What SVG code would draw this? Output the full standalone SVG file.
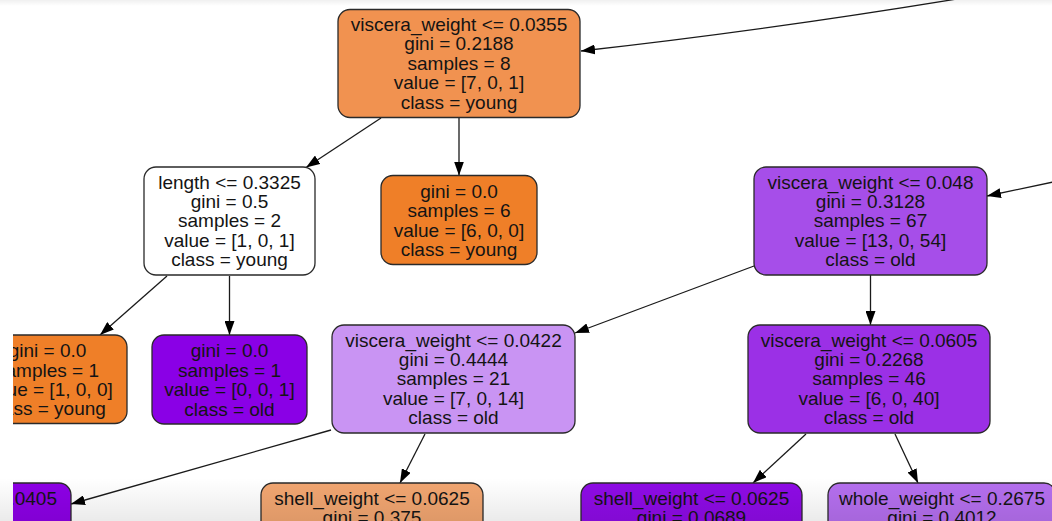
<svg xmlns="http://www.w3.org/2000/svg" width="1052" height="521" viewBox="0 0 1052 521">
  <defs>
    <style>
      .box { stroke: #2a2a2a; stroke-width: 1.3; }
      .t { font-family: "Liberation Sans", Arial, Helvetica, sans-serif; font-size: 19px; fill: #141414; text-anchor: middle; }
      .edge { fill: none; stroke: #1a1a1a; stroke-width: 1.3; marker-end: url(#arrow); }
    </style>
    <marker id="arrow" markerUnits="userSpaceOnUse" markerWidth="14" markerHeight="10" refX="14" refY="5" orient="auto" viewBox="0 0 14 10">
      <path d="M0,0 L14,5 L0,10 z" fill="#000"/>
    </marker>
    <clipPath id="view">
      <rect x="13" y="0" width="1039" height="521"/>
    </clipPath>
    <linearGradient id="shadeBottom" x1="0" y1="0" x2="0" y2="1">
      <stop offset="0" stop-color="#000" stop-opacity="0"/>
      <stop offset="1" stop-color="#000" stop-opacity="0.08"/>
    </linearGradient>
    <linearGradient id="shadeTop" x1="0" y1="0" x2="0" y2="1">
      <stop offset="0" stop-color="#000" stop-opacity="0.06"/>
      <stop offset="1" stop-color="#000" stop-opacity="0"/>
    </linearGradient>
  </defs>

  <rect x="0" y="0" width="1052" height="521" fill="#fff"/>

  <g clip-path="url(#view)">
    <!-- connectors -->
    <g id="edges">
      <path class="edge" d="M975,-4 Q770,30 581,51"/>
      <path class="edge" d="M1053,182 L987,196"/>
      <path class="edge" d="M381,118 L306,167.5"/>
      <path class="edge" d="M459,118 L459,175.5"/>
      <path class="edge" d="M167,276 L100,335"/>
      <path class="edge" d="M229.5,276 L229.5,335"/>
      <path class="edge" d="M754,266 L575,333"/>
      <path class="edge" d="M870.5,275 L870.5,325"/>
      <path class="edge" d="M331,430 L71,504"/>
      <path class="edge" d="M425,434 L400,483"/>
      <path class="edge" d="M806,434 L753,483"/>
      <path class="edge" d="M895,434 L918,483"/>
    </g>

    <g id="node-viscera-0355">
      <rect class="box" x="338" y="9.5" width="242" height="108" rx="12" fill="#F19250"/>
      <text class="t" x="459" y="31">viscera_weight &lt;= 0.0355</text>
      <text class="t" x="459" y="50.4">gini = 0.2188</text>
      <text class="t" x="459" y="69.8">samples = 8</text>
      <text class="t" x="459" y="89.2">value = [7, 0, 1]</text>
      <text class="t" x="459" y="108.6">class = young</text>
    </g>

    <g id="node-length-3325">
      <rect class="box" x="144" y="167" width="171" height="108" rx="12" fill="#FFFFFF"/>
      <text class="t" x="229.5" y="188.5">length &lt;= 0.3325</text>
      <text class="t" x="229.5" y="207.9">gini = 0.5</text>
      <text class="t" x="229.5" y="227.3">samples = 2</text>
      <text class="t" x="229.5" y="246.7">value = [1, 0, 1]</text>
      <text class="t" x="229.5" y="266.1">class = young</text>
    </g>

    <g id="node-leaf-young-6">
      <rect class="box" x="381" y="175.5" width="156" height="89" rx="12" fill="#EF7F28"/>
      <text class="t" x="459" y="197.9">gini = 0.0</text>
      <text class="t" x="459" y="217.3">samples = 6</text>
      <text class="t" x="459" y="236.7">value = [6, 0, 0]</text>
      <text class="t" x="459" y="256.1">class = young</text>
    </g>

    <g id="node-viscera-048">
      <rect class="box" x="754" y="167" width="233" height="108" rx="12" fill="#A64EE9"/>
      <text class="t" x="870.5" y="188.5">viscera_weight &lt;= 0.048</text>
      <text class="t" x="870.5" y="207.9">gini = 0.3128</text>
      <text class="t" x="870.5" y="227.3">samples = 67</text>
      <text class="t" x="870.5" y="246.7">value = [13, 0, 54]</text>
      <text class="t" x="870.5" y="266.1">class = old</text>
    </g>

    <g id="node-leaf-young-1">
      <rect class="box" x="-32" y="335" width="159" height="88.5" rx="12" fill="#EF7F28"/>
      <text class="t" x="47.5" y="357.2">gini = 0.0</text>
      <text class="t" x="47.5" y="376.6">samples = 1</text>
      <text class="t" x="47.5" y="396">value = [1, 0, 0]</text>
      <text class="t" x="47.5" y="415.4">class = young</text>
    </g>

    <g id="node-leaf-old-1">
      <rect class="box" x="152" y="335" width="155" height="89" rx="12" fill="#8A00E6"/>
      <text class="t" x="229.5" y="357.4">gini = 0.0</text>
      <text class="t" x="229.5" y="376.8">samples = 1</text>
      <text class="t" x="229.5" y="396.2">value = [0, 0, 1]</text>
      <text class="t" x="229.5" y="415.6">class = old</text>
    </g>

    <g id="node-viscera-0422">
      <rect class="box" x="332" y="325" width="243" height="108" rx="12" fill="#C994F3"/>
      <text class="t" x="453.5" y="346.5">viscera_weight &lt;= 0.0422</text>
      <text class="t" x="453.5" y="365.9">gini = 0.4444</text>
      <text class="t" x="453.5" y="385.3">samples = 21</text>
      <text class="t" x="453.5" y="404.7">value = [7, 0, 14]</text>
      <text class="t" x="453.5" y="424.1">class = old</text>
    </g>

    <g id="node-viscera-0605">
      <rect class="box" x="748" y="325" width="242" height="108" rx="12" fill="#9B30E6"/>
      <text class="t" x="869" y="346.5">viscera_weight &lt;= 0.0605</text>
      <text class="t" x="869" y="365.9">gini = 0.2268</text>
      <text class="t" x="869" y="385.3">samples = 46</text>
      <text class="t" x="869" y="404.7">value = [6, 0, 40]</text>
      <text class="t" x="869" y="424.1">class = old</text>
    </g>

    <g id="node-split-0405">
      <rect class="box" x="-150" y="483" width="221" height="108" rx="12" fill="#8D00E6"/>
      <text class="t" x="57" y="505" style="text-anchor:end">.0405</text>
    </g>

    <g id="node-shell-0625-a">
      <rect class="box" x="261" y="483" width="222" height="108" rx="12" fill="#F2A671"/>
      <text class="t" x="372" y="505">shell_weight &lt;= 0.0625</text>
      <text class="t" x="372" y="524.4">gini = 0.375</text>
    </g>

    <g id="node-shell-0625-b">
      <rect class="box" x="581" y="483" width="221" height="108" rx="12" fill="#8E0BE6"/>
      <text class="t" x="691.5" y="505">shell_weight &lt;= 0.0625</text>
      <text class="t" x="691.5" y="524.4">gini = 0.0689</text>
    </g>

    <g id="node-whole-2675">
      <rect class="box" x="828" y="483" width="228" height="108" rx="12" fill="#B56FEF"/>
      <text class="t" x="942" y="505">whole_weight &lt;= 0.2675</text>
      <text class="t" x="942" y="524.4">gini = 0.4012</text>
    </g>
  </g>

  <!-- soft window shading along top and bottom edges -->
  <rect x="0" y="0" width="1052" height="6" fill="url(#shadeTop)"/>
  <rect x="0" y="478" width="1052" height="43" fill="url(#shadeBottom)"/>
</svg>
